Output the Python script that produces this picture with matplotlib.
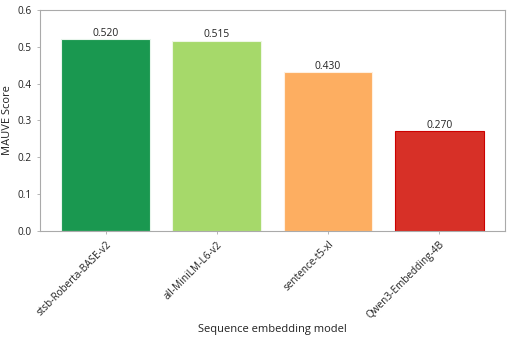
import matplotlib.pyplot as plt

models = ["stsb-Roberta-BASE-v2", "all-MiniLM-L6-v2", "sentence-t5-xl", "Qwen3-Embedding-4B"]
scores = [0.520, 0.515, 0.430, 0.270]
colors = ["#1a9850", "#a6d96a", "#fdae61", "#d73027"]
edges = ["#e8f5ec", "#eef7e4", "#fff0e0", "#cc0000"]

plt.rcParams["font.family"] = ["Open Sans", "DejaVu Sans"]

fig = plt.figure(figsize=(5.12, 3.41), dpi=100)
ax = fig.add_axes([0.078, 0.323, 0.908, 0.648])

bars = ax.bar(range(len(models)), scores, width=0.8, color=colors,
              edgecolor=edges, linewidth=0.8)
for bar, v in zip(bars, scores):
    ax.text(bar.get_x() + bar.get_width() / 2, v + 0.002, f"{v:.3f}",
            ha="center", va="bottom", fontsize=7.4, color="#222222")

ax.set_ylim(0, 0.6)
ax.set_yticks([0.0, 0.1, 0.2, 0.3, 0.4, 0.5, 0.6])
ax.set_xticks(range(len(models)))
ax.set_xticklabels(models, rotation=45, ha="right", rotation_mode="anchor")
ax.tick_params(labelsize=7.2, colors="#222222", length=2.5, width=0.6)
ax.tick_params(axis="both", color="#aaaaaa")
for s in ax.spines.values():
    s.set_color("#aaaaaa")
    s.set_linewidth(0.8)
ax.set_ylabel("MAUVE Score", fontsize=8, color="#222222", labelpad=3)
ax.set_xlabel("Sequence embedding model", fontsize=8, color="#222222", labelpad=2)

fig.savefig("out.png", dpi=100)
